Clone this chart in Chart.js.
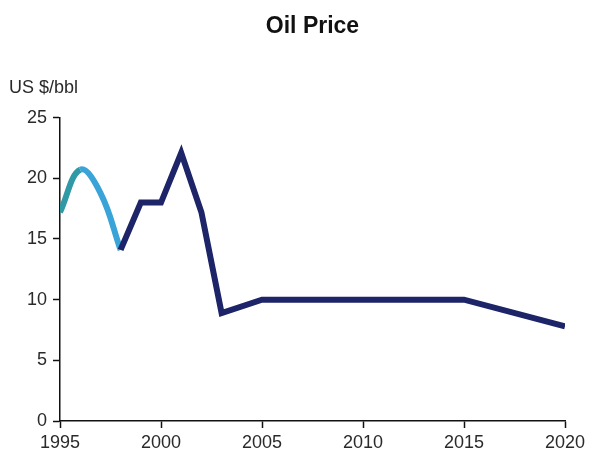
<!DOCTYPE html>
<html>
<head>
<meta charset="utf-8">
<script src="https://cdn.jsdelivr.net/npm/chart.js@4/dist/chart.umd.min.js"></script>
<style>
  html, body { margin: 0; padding: 0; background: #fff; }
  #wrap { width: 590px; height: 455px; }
</style>
</head>
<body>
<div id="wrap"><canvas id="oilChart" width="590" height="455"></canvas></div>
<script>
// early years (light blue, smoothed)
const earlyYears = [1995, 1996, 1997, 1998];
const earlyPrice = [17.2, 20.7, 18.8, 14.1];
// later years (dark navy)
const lateYears = [1998, 1999, 2000, 2001, 2002, 2003, 2005, 2015, 2020];
const latePrice = [14.1, 18, 18, 22.1, 17.2, 8.9, 10, 10, 7.8];

const yTicks = [0, 5, 10, 15, 20, 25];
const xTicks = [1995, 2000, 2005, 2010, 2015, 2020];

const toPoints = (xs, ys) => xs.map((x, i) => ({ x: x, y: ys[i] }));

const txtColor = '#2a2a2a';
const fontFamily = '"Liberation Sans", Arial, sans-serif';

// unit label above the y axis
const unitLabel = {
  id: 'unitLabel',
  afterDraw(chart) {
    const ctx = chart.ctx;
    ctx.save();
    ctx.font = '18px ' + fontFamily;
    ctx.fillStyle = txtColor;
    ctx.textAlign = 'left';
    ctx.textBaseline = 'middle';
    ctx.fillText('US $/bbl', 9, 88);
    ctx.restore();
  }
};

const axisStyle = {
  display: true,
  drawOnChartArea: false,
  drawTicks: true,
  tickLength: 7,
  tickWidth: 1.5,
  color: '#111'
};

new Chart(document.getElementById('oilChart'), {
  type: 'line',
  data: {
    datasets: [
      {
        label: 'late',
        data: toPoints(lateYears, latePrice),
        borderColor: '#1d2468',
        borderWidth: 6,
        tension: 0,
        pointRadius: 0,
        borderJoinStyle: 'miter',
        order: 0
      },
      {
        label: 'early',
        data: toPoints(earlyYears, earlyPrice),
        borderColor: '#3aa3d8',
        borderWidth: 6,
        tension: 0.4,
        pointRadius: 0,
        segment: {
          borderColor: c => c.p0DataIndex === 0 ? '#2f9aa6' : '#3aa3d8'
        },
        order: 1
      }
    ]
  },
  options: {
    responsive: false,
    animation: false,
    layout: { padding: { left: 0, right: 25, top: 0, bottom: 0 } },
    plugins: {
      legend: { display: false },
      tooltip: { enabled: false },
      title: {
        display: true,
        fullSize: false, // centre over the plot area, not the canvas
        text: 'Oil Price',
        color: '#111',
        font: { family: fontFamily, size: 23, weight: 'bold' },
        padding: { top: 13, bottom: 77 }
      }
    },
    scales: {
      x: {
        type: 'linear',
        min: 1995,
        max: 2020,
        afterBuildTicks: s => { s.ticks = xTicks.map(v => ({ value: v })); },
        afterFit: s => { s.height = 34; },
        grid: axisStyle,
        border: { display: true, color: '#111', width: 1.5 },
        ticks: {
          color: txtColor,
          padding: 4,
          maxRotation: 0,
          font: { family: fontFamily, size: 18 },
          callback: v => String(v)
        }
      },
      y: {
        min: 0,
        max: 25,
        afterBuildTicks: s => { s.ticks = yTicks.map(v => ({ value: v })); },
        afterFit: s => { s.width = 60; },
        grid: axisStyle,
        border: { display: true, color: '#111', width: 1.5 },
        ticks: {
          color: txtColor,
          padding: 6,
          font: { family: fontFamily, size: 18 },
          callback: v => String(v)
        }
      }
    }
  },
  plugins: [unitLabel]
});
</script>
</body>
</html>
